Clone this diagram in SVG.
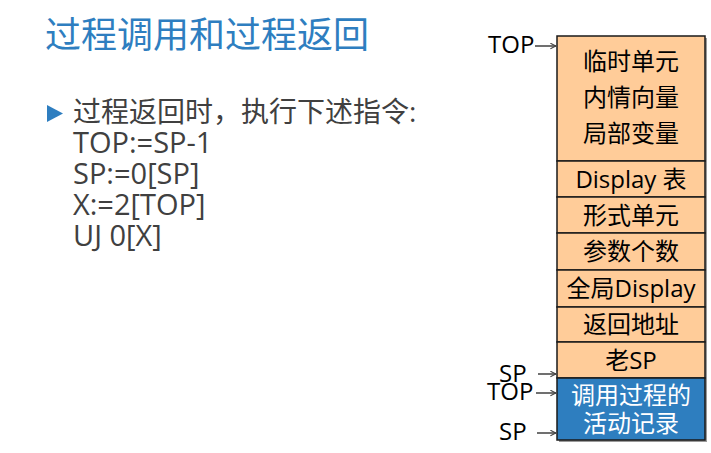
<svg xmlns="http://www.w3.org/2000/svg" width="711" height="453" viewBox="0 0 711 453">
<defs>
<style>
text{font-family:"Open Sans","Noto Sans CJK SC",sans-serif}
.title{font-size:36px;fill:#2E7EC0}
.body{font-size:28px;fill:#404040}
.code{font-size:29px;fill:#404040}
.cell{fill:#FFCC99;stroke:#1a1a1a;stroke-width:1.5}
.blue{fill:#2E7EBF;stroke:#1a1a1a;stroke-width:1.5}
.ct{font-size:24px;fill:#000;text-anchor:middle}
.wt{font-size:24px;fill:#fff;text-anchor:middle}
.lbl{font-size:24px;fill:#000}
.conn{stroke:#404040;stroke-width:1.5;fill:none;marker-end:url(#ah)}
</style>
<marker id="ah" viewBox="0 0 10 10" refX="9" refY="5" markerWidth="7" markerHeight="7" markerUnits="userSpaceOnUse" orient="auto">
<path d="M1,1 L9,5 L1,9" fill="none" stroke="#404040" stroke-width="1.5"/>
</marker>
</defs>
<rect width="711" height="453" fill="#fff"/>
<text class="title" x="45" y="48">过程调用和过程返回</text>
<g id="bullet">
<path d="M47,105 L63,113.5 L47,122 Z" fill="#2E7EC0"/>
<text class="body" x="73" y="122">过程返回时，执行下述指令:</text>
<text class="code" x="73" y="153">TOP:=SP-1</text>
<text class="code" x="73" y="184">SP:=0[SP]</text>
<text class="code" x="73" y="215">X:=2[TOP]</text>
<text class="code" x="73" y="246">UJ 0[X]</text>
</g>
<rect x="559" y="38" width="148" height="404" fill="#9a9a9a"/>
<g id="n-top">
<rect class="cell" x="557" y="36" width="148" height="125"/>
<text class="ct" x="631" y="70">临时单元</text>
<text class="ct" x="631" y="106">内情向量</text>
<text class="ct" x="631" y="142">局部变量</text>
</g>
<g id="n-display"><rect class="cell" x="557" y="161" width="148" height="36"/><text class="ct" x="631" y="188">Display 表</text></g>
<g id="n-formal"><rect class="cell" x="557" y="197" width="148" height="36"/><text class="ct" x="631" y="224">形式单元</text></g>
<g id="n-nparam"><rect class="cell" x="557" y="233" width="148" height="37"/><text class="ct" x="631" y="260">参数个数</text></g>
<g id="n-global"><rect class="cell" x="557" y="270" width="148" height="37"/><text class="ct" x="631" y="297">全局Display</text></g>
<g id="n-ret"><rect class="cell" x="557" y="307" width="148" height="35"/><text class="ct" x="631" y="333">返回地址</text></g>
<g id="n-oldsp"><rect class="cell" x="557" y="342" width="148" height="36"/><text class="ct" x="631" y="369">老SP</text></g>
<g id="n-caller"><rect class="blue" x="557" y="378" width="148" height="62"/><text class="wt" x="631" y="404">调用过程的</text><text class="wt" x="631" y="432">活动记录</text></g>
<g id="labels">
<text class="lbl" x="488" y="53">TOP</text>
<text class="lbl" x="499" y="382">SP</text>
<text class="lbl" x="487" y="400">TOP</text>
<text class="lbl" x="499" y="440">SP</text>
</g>
<g id="connectors">
<line class="conn" x1="535" y1="46" x2="556" y2="46"/>
<line class="conn" x1="538" y1="374" x2="556" y2="374"/>
<line class="conn" x1="536" y1="393" x2="556" y2="393"/>
<line class="conn" x1="537" y1="433" x2="556" y2="433"/>
</g>
</svg>
